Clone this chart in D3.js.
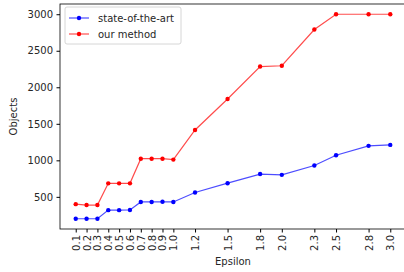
<!DOCTYPE html>
<html>
<head>
<meta charset="UTF-8" />
<script src="https://d3js.org/d3.v7.min.js"></script>
<style>
    body { margin: 0; background: #fff; }
    text { font-family: "DejaVu Sans", sans-serif; fill: #262626; }
    .axis path, .axis line { stroke: #000; }
</style>
</head>
<body>
<script>
    const epsilon = [0.1, 0.2, 0.3, 0.4, 0.5, 0.6, 0.7, 0.8, 0.9, 1.0, 1.2, 1.5, 1.8, 2.0, 2.3, 2.5, 2.8, 3.0];
    const stateOfTheArt = [200, 200, 200, 318, 318, 320, 430, 430, 433, 430, 560, 687, 812, 801, 929, 1070, 1198, 1211];
    const ourMethod = [400, 388, 388, 685, 685, 685, 1022, 1022, 1022, 1010, 1415, 1840, 2284, 2295, 2790, 3000, 3000, 3000];
    const yTicks = [500, 1000, 1500, 2000, 2500, 3000];

    const W = 404, H = 272;
    const mLeft = 60, mRight = 406, mTop = 4, mBottom = 229;

    const svg = d3.select("body").append("svg")
        .attr("width", W).attr("height", H);

    const x = d3.scaleLinear().domain([-0.045, 3.145]).range([mLeft, mRight]);
    const y = d3.scaleLinear().domain([60, 3140]).range([mBottom, mTop]);

    // frame
    svg.append("rect")
        .attr("x", mLeft).attr("y", mTop)
        .attr("width", mRight - mLeft).attr("height", mBottom - mTop)
        .attr("fill", "none").attr("stroke", "#000").attr("stroke-width", 0.8);

    const gX = svg.append("g").attr("class", "axis")
        .attr("transform", `translate(0,${mBottom})`)
        .call(d3.axisBottom(x).tickValues(epsilon).tickFormat(d3.format(".1f")).tickSize(3.5).tickPadding(3));
    gX.select(".domain").remove();
    gX.selectAll("text")
        .attr("transform", "rotate(-90)")
        .attr("text-anchor", "end")
        .attr("x", -6).attr("y", 0).attr("dy", "0.35em")
        .attr("font-size", 10);

    const gY = svg.append("g").attr("class", "axis")
        .attr("transform", `translate(${mLeft},0)`)
        .call(d3.axisLeft(y).tickValues(yTicks).tickFormat(d3.format("d")).tickSize(3.5).tickPadding(3.5));
    gY.select(".domain").remove();
    gY.selectAll("text").attr("font-size", 10);

    svg.append("text").attr("x", (mLeft + mRight) / 2).attr("y", 265)
        .attr("text-anchor", "middle").attr("font-size", 10).text("Epsilon");
    svg.append("text").attr("transform", `translate(17,${(mTop + mBottom) / 2}) rotate(-90)`)
        .attr("text-anchor", "middle").attr("font-size", 10).text("Objects");

    const line = d3.line().x((d, i) => x(epsilon[i])).y(d => y(d));

    const series = [
        { name: "state-of-the-art", values: stateOfTheArt, color: "blue" },
        { name: "our method", values: ourMethod, color: "red" }
    ];

    series.forEach(s => {
        svg.append("path").datum(s.values)
            .attr("d", line).attr("fill", "none")
            .attr("stroke", s.color).attr("stroke-opacity", 0.7).attr("stroke-width", 1.2);
        svg.append("g").selectAll("circle").data(s.values).join("circle")
            .attr("cx", (d, i) => x(epsilon[i])).attr("cy", d => y(d))
            .attr("r", 2.2).attr("fill", s.color);
    });

    // legend
    const lg = svg.append("g");
    lg.append("rect").attr("x", 65).attr("y", 7).attr("width", 116).attr("height", 37)
        .attr("rx", 2).attr("fill", "#fff").attr("fill-opacity", 0.8)
        .attr("stroke", "#ccc").attr("stroke-width", 0.8);
    series.forEach((s, i) => {
        const yy = 18 + i * 16;
        lg.append("line").attr("x1", 69).attr("x2", 89).attr("y1", yy).attr("y2", yy)
            .attr("stroke", s.color).attr("stroke-opacity", 0.7).attr("stroke-width", 1.2);
        lg.append("circle").attr("cx", 79).attr("cy", yy).attr("r", 2.2).attr("fill", s.color);
        lg.append("text").attr("x", 98).attr("y", yy).attr("dy", "0.35em")
            .attr("font-size", 10).text(s.name);
    });
</script>
</body>
</html>
